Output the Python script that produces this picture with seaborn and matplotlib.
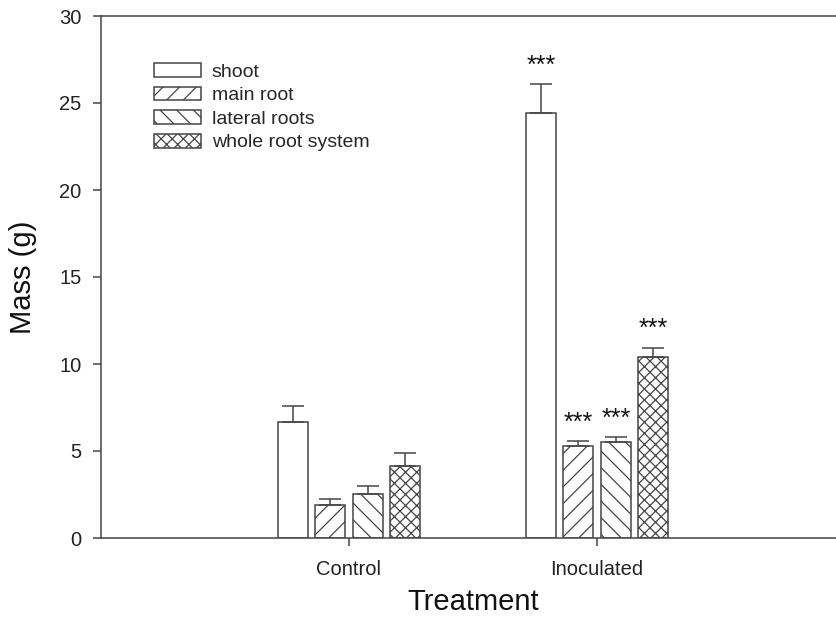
import matplotlib
matplotlib.use("Agg")
import matplotlib.pyplot as plt
from matplotlib.container import BarContainer
import seaborn as sns
import pandas as pd
import numpy as np

treatments = ["Control", "Inoculated"]
parts = ["shoot", "main root", "lateral roots", "whole root system"]
control_mass = [6.68, 1.90, 2.55, 4.14]
control_err = [0.92, 0.34, 0.44, 0.75]
inoc_mass = [24.44, 5.29, 5.50, 10.38]
inoc_err = [1.63, 0.27, 0.30, 0.56]
inoc_sig = ["***", "***", "***", "***"]
control_sig = ["", "", "", ""]
hatches = ["", "//", "\\\\", "xxx"]

sns.set_theme(style="ticks")
plt.rcParams["font.family"] = ["Liberation Sans", "DejaVu Sans"]
LC = "#454545"
plt.rcParams["hatch.color"] = LC
plt.rcParams["hatch.linewidth"] = 0.9

rows = []
for t, vals, errs, sig in [("Control", control_mass, control_err, control_sig),
                           ("Inoculated", inoc_mass, inoc_err, inoc_sig)]:
    for p, v, e, s in zip(parts, vals, errs, sig):
        rows.append({"Treatment": t, "part": p, "mass": v, "err": e, "sig": s})
df = pd.DataFrame(rows)

fig = plt.figure(figsize=(8.37, 6.23), dpi=100)
ax = fig.add_axes([101 / 837, 85 / 623, 744 / 837, 522 / 623])

sns.barplot(data=df, x="Treatment", y="mass", hue="part", order=treatments,
            hue_order=parts, palette=["white"] * 4, width=0.605, gap=0.2,
            edgecolor=LC, linewidth=1.1, errorbar=None, saturation=1,
            legend=False, ax=ax)

bar_conts = [c for c in ax.containers if isinstance(c, BarContainer)]
for i, cont in enumerate(bar_conts):
    for j, patch in enumerate(cont.patches):
        patch.set_hatch(hatches[i])
        patch.set_edgecolor(LC)
        sub = df[(df["part"] == parts[i]) & (df["Treatment"] == treatments[j])].iloc[0]
        xc = patch.get_x() + patch.get_width() / 2
        ax.errorbar([xc], [sub["mass"]], yerr=[[0], [sub["err"]]], fmt="none",
                    ecolor=LC, elinewidth=1.1, capsize=8, capthick=1.1, zorder=1)
        if sub["sig"]:
            ax.text(xc, sub["mass"] + sub["err"] + 0.65, sub["sig"], ha="center",
                    va="baseline", fontsize=18, color="#111111")

ax.set_xlim(-1, 2)
ax.set_ylim(0, 30)
ax.set_yticks([0, 5, 10, 15, 20, 25, 30])
ax.set_xlabel("Treatment", fontsize=21, labelpad=6, color="#111111")
ax.set_ylabel("Mass (g)", fontsize=21, labelpad=16, color="#111111")
ax.tick_params(axis="y", length=6, width=1.1, color=LC, labelsize=14.5, pad=8,
               labelcolor="#222222")
ax.tick_params(axis="x", length=6, width=1.1, color=LC, labelsize=14.5, pad=10,
               labelcolor="#222222")
for s in ["left", "bottom", "top", "right"]:
    ax.spines[s].set_visible(True)
    ax.spines[s].set_color(LC)
    ax.spines[s].set_linewidth(1.1)

ax.legend(handles=bar_conts, labels=parts, loc="upper left",
          bbox_to_anchor=(0.0712, 0.910), frameon=False, fontsize=14,
          borderpad=0, borderaxespad=0, handlelength=2.42, handleheight=0.72,
          handletextpad=0.55, labelspacing=0.3)

fig.savefig("out.png", dpi=100)
